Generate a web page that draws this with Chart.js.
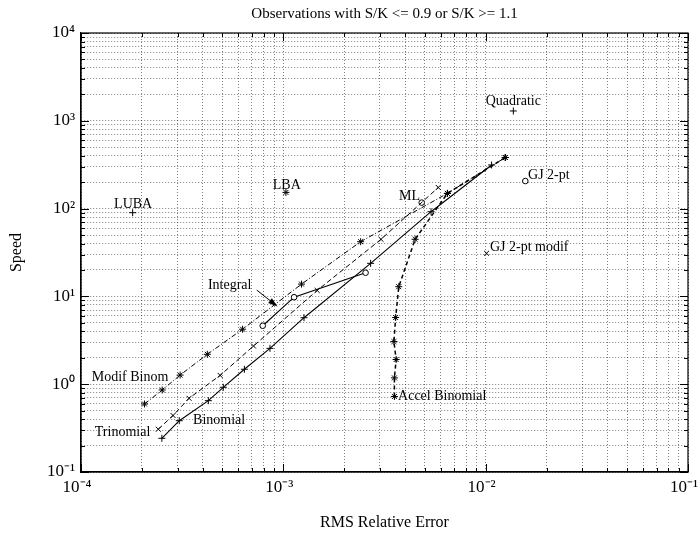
<!DOCTYPE html>
<html>
<head>
<meta charset="utf-8">
<script src="https://cdn.jsdelivr.net/npm/chart.js@4.4.1/dist/chart.umd.min.js"></script>
<style>
  body { margin: 0; background: #fff; }
  #wrap { width: 700px; height: 538px; }
</style>
</head>
<body>
<div id="wrap"><canvas id="chart" width="700" height="538"></canvas></div>
<script>
// series (x = RMS relative error, y = speed)
const binomX = [2.51e-4, 3.06e-4, 4.26e-4, 5.05e-4, 6.42e-4, 8.59e-4, 1.265e-3, 2.70e-3, 5.37e-3, 1.07e-2];
const binomY = [0.242, 0.384, 0.649, 0.922, 1.48, 2.56, 5.72, 23.8, 92.2, 314];

const trinomX = [2.41e-4, 2.85e-4, 3.42e-4, 4.87e-4, 7.12e-4, 1.47e-3, 3.04e-3, 5.83e-3];
const trinomY = [0.307, 0.440, 0.691, 1.26, 2.72, 11.7, 44.7, 174];

const modifX = [2.06e-4, 2.52e-4, 3.09e-4, 4.21e-4, 6.29e-4, 1.23e-3, 2.41e-3, 6.47e-3, 1.25e-2];
const modifY = [0.595, 0.859, 1.27, 2.19, 4.23, 13.8, 42.0, 149, 382];

const accelX = [3.54e-3, 3.54e-3, 3.61e-3, 3.52e-3, 3.59e-3, 3.72e-3, 4.48e-3, 6.47e-3, 1.25e-2];
const accelY = [0.724, 1.18, 1.91, 3.06, 5.75, 12.9, 44.7, 149, 382];

const integralX = [7.91e-4, 1.13e-3, 2.55e-3];
const integralY = [4.63, 9.79, 18.6];

// single methods
const singleNames = ['LUBA', 'LBA', 'Quadratic', 'GJ 2-pt', 'GJ 2-pt modif', 'ML'];
const singleX = [1.80e-4, 1.03e-3, 1.37e-2, 1.57e-2, 1.01e-2, 4.83e-3];
const singleY = [89.8, 153, 1294, 206, 31.0, 117];
const singleMarks = ['cross', 'star', 'cross', 'circle', 'crossRot', 'circle'];

// text labels placed in data units
const noteText = ['LUBA', 'LBA', 'Quadratic', 'GJ 2-pt', 'GJ 2-pt modif', 'ML', 'Accel Binomial', 'Binomial', 'Trinomial', 'Modif Binom', 'Integral'];
const noteX = [1.81e-4, 1.04e-3, 1.37e-2, 1.62e-2, 1.05e-2, 3.73e-3, 3.69e-3, 3.58e-4, 1.17e-4, 1.13e-4, 4.24e-4];
const noteY = [113, 186, 1681, 241, 36.5, 139, 0.734, 0.391, 0.286, 1.21, 13.5];
const noteAlign = ['center', 'center', 'center', 'left', 'left', 'left', 'left', 'left', 'left', 'left', 'left'];

// arrow from "Integral" label to its curve
const arrowX = [7.39e-4, 9.36e-4];
const arrowY = [11.8, 7.67];

const serif = "'Liberation Serif', 'Times New Roman', serif";

function pts(xs, ys) {
    return xs.map((x, i) => ({ x: x, y: ys[i] }));
}

function isDecade(v) {
    const l = Math.log10(v);
    return Math.abs(l - Math.round(l)) < 1e-9;
}

const sup = { '-': '\u207B', '0': '\u2070', '1': '\u00B9', '2': '\u00B2', '3': '\u00B3', '4': '\u2074' };
function decadeLabel(v) {
    if (!isDecade(v)) return '';
    const e = String(Math.round(Math.log10(v)));
    return '10' + e.split('').map(c => sup[c]).join('');
}

// every 1..9 x 10^n tick between min and max
function allLogTicks(scale) {
    const ticks = [];
    const lo = Math.round(Math.log10(scale.min));
    const hi = Math.round(Math.log10(scale.max));
    for (let e = lo; e <= hi; e++) {
        for (let m = 1; m <= 9; m++) {
            if (e === hi && m > 1) break;
            ticks.push({ value: m * Math.pow(10, e) });
        }
    }
    scale.ticks = ticks;
}

function lineSet(label, xs, ys, mark, dash, width) {
    return {
        label: label,
        data: pts(xs, ys),
        showLine: true,
        borderColor: '#000',
        borderWidth: width || 1,
        borderDash: dash,
        backgroundColor: mark === 'circle' ? '#fff' : '#000',
        pointStyle: mark,
        pointRadius: mark === 'circle' ? 2.8 : 3.5,
        pointBorderColor: '#000',
        pointBorderWidth: 1,
        tension: 0
    };
}

const datasets = [
    lineSet('Binomial', binomX, binomY, 'cross', [], 1.1),
    lineSet('Trinomial', trinomX, trinomY, 'crossRot', [5, 3], 1),
    lineSet('Modif Binom', modifX, modifY, 'star', [5, 2, 1, 2], 1),
    lineSet('Accel Binomial', accelX, accelY, 'star', [4, 3], 1.5),
    lineSet('Integral', integralX, integralY, 'circle', [], 1.1)
];
singleNames.forEach((name, i) => {
    datasets.push({
        label: name,
        data: [{ x: singleX[i], y: singleY[i] }],
        showLine: false,
        pointStyle: singleMarks[i],
        pointRadius: singleMarks[i] === 'circle' ? 2.8 : 3.5,
        borderColor: '#000',
        backgroundColor: singleMarks[i] === 'circle' ? '#fff' : '#000',
        pointBorderWidth: 1
    });
});

// frame, inward ticks, title and the text notes
const decor = {
    id: 'decor',
    afterDatasetsDraw(chart) {
        const ctx = chart.ctx;
        const a = chart.chartArea;
        const xs = chart.scales.x;
        const ys = chart.scales.y;
        ctx.save();

        ctx.strokeStyle = '#000';
        ctx.lineWidth = 1.2;
        ctx.strokeRect(a.left, a.top, a.right - a.left, a.bottom - a.top);

        ctx.lineWidth = 1;
        ctx.beginPath();
        xs.ticks.forEach(t => {
            const px = Math.round(xs.getPixelForValue(t.value)) + 0.5;
            const len = isDecade(t.value) ? 8 : 4;
            ctx.moveTo(px, a.bottom); ctx.lineTo(px, a.bottom - len);
            ctx.moveTo(px, a.top); ctx.lineTo(px, a.top + len);
        });
        ys.ticks.forEach(t => {
            const py = Math.round(ys.getPixelForValue(t.value)) + 0.5;
            const len = isDecade(t.value) ? 8 : 4;
            ctx.moveTo(a.left, py); ctx.lineTo(a.left + len, py);
            ctx.moveTo(a.right, py); ctx.lineTo(a.right - len, py);
        });
        ctx.stroke();

        ctx.fillStyle = '#000';
        ctx.font = '15px ' + serif;
        ctx.textAlign = 'center';
        ctx.textBaseline = 'middle';
        ctx.fillText('Observations with S/K <= 0.9 or S/K >= 1.1', (a.left + a.right) / 2, 14);

        ctx.font = '14px ' + serif;
        noteText.forEach((txt, i) => {
            ctx.textAlign = noteAlign[i];
            ctx.fillText(txt, xs.getPixelForValue(noteX[i]), ys.getPixelForValue(noteY[i]));
        });

        // arrow
        const x1 = xs.getPixelForValue(arrowX[0]), y1 = ys.getPixelForValue(arrowY[0]);
        const x2 = xs.getPixelForValue(arrowX[1]), y2 = ys.getPixelForValue(arrowY[1]);
        const ang = Math.atan2(y2 - y1, x2 - x1);
        ctx.beginPath();
        ctx.moveTo(x1, y1);
        ctx.lineTo(x2 - 6 * Math.cos(ang), y2 - 6 * Math.sin(ang));
        ctx.stroke();
        ctx.beginPath();
        ctx.moveTo(x2, y2);
        ctx.lineTo(x2 - 10 * Math.cos(ang - 0.3), y2 - 10 * Math.sin(ang - 0.3));
        ctx.lineTo(x2 - 10 * Math.cos(ang + 0.3), y2 - 10 * Math.sin(ang + 0.3));
        ctx.closePath();
        ctx.fill();

        ctx.restore();
    }
};

const gridOpts = {
    color: 'rgba(0,0,0,0.5)',
    lineWidth: 1,
    drawTicks: false
};

new Chart(document.getElementById('chart'), {
    type: 'scatter',
    data: { datasets: datasets },
    plugins: [decor],
    options: {
        responsive: false,
        animation: false,
        devicePixelRatio: 1,
        layout: { padding: { top: 33, right: 12, left: 0, bottom: 0 } },
        plugins: {
            legend: { display: false },
            title: { display: false },
            tooltip: { enabled: false }
        },
        scales: {
            x: {
                type: 'logarithmic',
                min: 1e-4,
                max: 1e-1,
                afterBuildTicks: allLogTicks,
                afterFit: s => { s.height = 66; s.paddingRight = 0; s.paddingLeft = 0; },
                grid: gridOpts,
                border: { display: true, color: '#000', width: 1.2, dash: [1, 2] },
                ticks: {
                    autoSkip: false,
                    maxRotation: 0,
                    padding: 5,
                    labelOffset: -4,
                    color: '#000',
                    font: { family: serif, size: 17 },
                    callback: v => decadeLabel(v)
                },
                title: {
                    display: true,
                    text: 'RMS Relative Error',
                    color: '#000',
                    font: { family: serif, size: 16 },
                    padding: { top: 0, bottom: 6 }
                }
            },
            y: {
                type: 'logarithmic',
                min: 1e-1,
                max: 1e4,
                afterBuildTicks: allLogTicks,
                afterFit: s => { s.width = 81; s.paddingTop = 0; s.paddingBottom = 0; },
                grid: gridOpts,
                border: { display: true, color: '#000', width: 1.2, dash: [1, 2] },
                ticks: {
                    autoSkip: false,
                    padding: 6,
                    color: '#000',
                    font: { family: serif, size: 17 },
                    callback: v => decadeLabel(v)
                },
                title: {
                    display: true,
                    text: 'Speed',
                    color: '#000',
                    font: { family: serif, size: 16 },
                    padding: { top: 7, bottom: 0 }
                }
            }
        }
    }
});
</script>
</body>
</html>
